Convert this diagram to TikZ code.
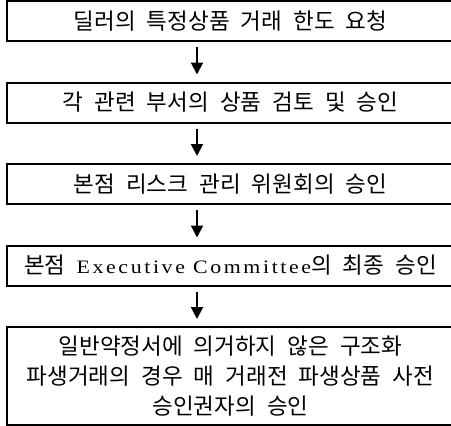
\documentclass[tikz,border=0pt]{standalone}
\usepackage{fontspec}
\setmainfont{Noto Sans CJK KR}[WordSpace=2.2]
\newfontfamily\latinfont{Liberation Serif}[LetterSpace=12]
\usetikzlibrary{positioning,arrows.meta}
\newcommand*\boxwidth{447pt}
\newcommand*\boxgap {39.5pt}
\newcommand*\widelatin[1]{\scalebox{1.15}[1]{\latinfont\fontsize{19pt}{30pt}\selectfont #1}}
\tikzset{
    stepbox/.style = {draw, rectangle, line width=2pt,
                      minimum width=\boxwidth, minimum height=40pt,
                      inner sep=0pt, align=center,
                      font=\fontsize{22.5pt}{30pt}\selectfont},
    tallbox/.style = {stepbox, minimum height=98pt},
    flow/.style    = {line width=2pt, -{Triangle[width=12pt,length=12pt]},
                      shorten <=5pt, shorten >=7pt},
  }

\begin{document}
\begin{tikzpicture}[x=1pt,y=-1pt]
    \useasboundingbox (0,0) rectangle (451,426);

    % the five approval steps, top to bottom
    \node[stepbox, anchor=north] (request) at (230.5,0) {딜러의 특정상품 거래 한도 요청};
    \node[stepbox, below=\boxgap of request] (review) {각 관련 부서의 상품 검토 및 승인};
    \node[stepbox, below=\boxgap of review] (riskcomm) {본점 리스크 관리 위원회의 승인};
    \node[stepbox, below=\boxgap of riskcomm] (excomm)
        {본점 \widelatin{Executive Committee}의 최종 승인};
    \node[tallbox, below=\boxgap of excomm] (preappr)
        {일반약정서에 의거하지 않은 구조화\\
         파생거래의 경우 매 거래전 파생상품 사전\\
         승인권자의 승인};

    % arrows between the steps (left of the centre line)
    \coordinate (ax) at (197,0);
    \foreach \a/\b in {request/review, review/riskcomm, riskcomm/excomm, excomm/preappr} {
        \draw[flow] (\a.south -| ax) -- (\b.north -| ax);
    }
\end{tikzpicture}
\end{document}
